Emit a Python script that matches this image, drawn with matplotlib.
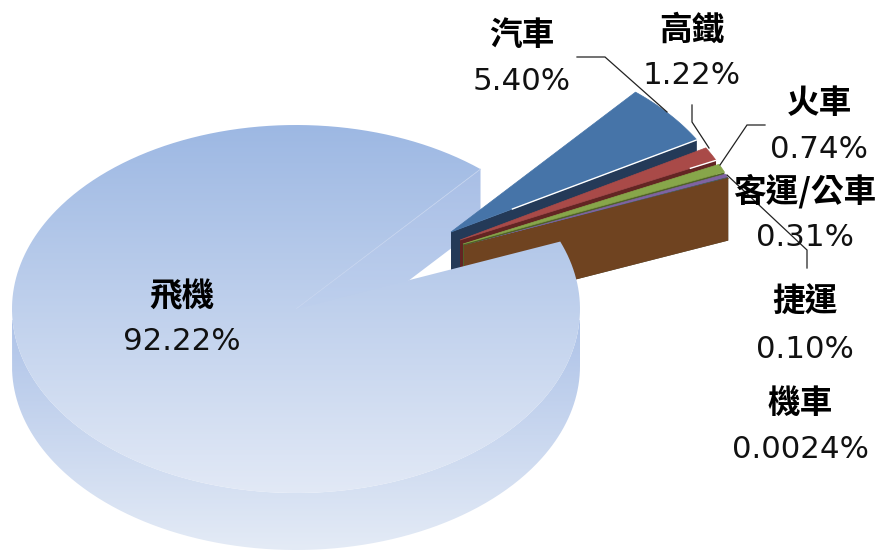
import numpy as np
import matplotlib
matplotlib.use('Agg')
from matplotlib import pyplot as plt
from matplotlib.colors import LinearSegmentedColormap
from matplotlib.patches import PathPatch, Polygon
from matplotlib.path import Path

names = ['飛機', '汽車', '高鐵', '火車', '客運/公車', '捷運', '機車']
values = [92.22, 5.40, 1.22, 0.74, 0.31, 0.10, 0.0024]
value_labels = ['92.22%', '5.40%', '1.22%', '0.74%', '0.31%', '0.10%', '0.0024%']

top_colors = ['#9DB8E3', '#4674A8', '#A94A48', '#87A64A', '#7F63A2', '#4A5A50', '#6F4320']
wall_colors = ['#A9BFE6', '#243A58', '#632523', '#4F6228', '#4A3A64', '#4A5A50', '#6F4320']

# label centres, (name y, value y)
label_x = [182, 522, 692, 819, 805, 805, 800]
name_y = [297, 35, 30, 103, 191, 302, 403]
value_y = [341, 82, 75, 150, 237, 349, 450]

# pie layout in pixels
cx, cy = 296, 309
rx, ry = 284, 184
depth = 57
start_angle = 21.5
# offsets of the pulled out slices
explode_x = [0, 155, 164, 167, 168, 168, 168]
explode_y = [0, -77, -69, -65, -63, -63, -63]

# leader lines for the small slices
leaders = [
    [(577, 57), (605, 57), (667, 112)],
    [(692, 105), (692, 122), (709, 148)],
    [(765, 125), (747, 125), (720, 165)],
    [(727, 175), (807, 250), (807, 268)],
]

fig = plt.figure(figsize=(8.76, 5.5), dpi=100)
ax = fig.add_axes([0, 0, 1, 1])
ax.axis('off')


def arc(a0, a1, dx=0, dy=0):
    t = np.radians(np.linspace(a0, a1, max(2, int(abs(a1 - a0) * 2))))
    return np.column_stack([cx + dx + rx * np.cos(t), cy + dy - ry * np.sin(t)])


def rim(a, dx=0, dy=0):
    return arc(a, a, dx, dy)[0]


def gradient(points, y0, y1, c0, c1, z):
    cmap = LinearSegmentedColormap.from_list('g', [c0, c1])
    im = ax.imshow(np.linspace(0, 1, 256).reshape(-1, 1), cmap=cmap, aspect='auto',
                   extent=(0, 876, y1, y0), zorder=z, interpolation='bilinear')
    closed = np.vstack([points, points[0]])
    clip = PathPatch(Path(closed), transform=ax.transData, fc='none', ec='none')
    ax.add_patch(clip)
    im.set_clip_path(clip)


# clockwise sweep of every slice
sweeps = 360 * np.array(values) / sum(values)
ends = start_angle - np.cumsum(sweeps)
starts = ends + sweeps

# pulled out slices, back to front
for i in range(1, len(values)):
    dx, dy = explode_x[i], explode_y[i]
    apex = np.array([cx + dx, cy + dy])
    edge = rim(ends[i], dx, dy)
    wall = [apex, edge, edge + [0, depth + 5], apex + [0, depth + 5]]
    ax.add_patch(Polygon(wall, fc=wall_colors[i], ec='none', zorder=3 + i))
    top = np.vstack([apex, arc(starts[i], ends[i], dx, dy)])
    ax.add_patch(Polygon(top, fc=top_colors[i], ec=top_colors[i], lw=0.5, zorder=3 + i))
    if i == 1:
        p = apex + 0.25 * (edge - apex)
        ax.plot([p[0], edge[0]], [p[1], edge[1]], color='white', lw=1.0, zorder=3 + i)
    if i == 2:
        p = apex + 0.9 * (edge - apex)
        ax.plot([p[0], edge[0]], [p[1], edge[1]], color='white', lw=1.0, zorder=3 + i)

# back wall of the big slice, seen through the gap
centre = np.array([cx, cy])
back = rim(ends[0])
wall = np.array([centre, back, back + [0, depth], centre + [0, depth]])
gradient(wall, 168, 366, '#A9BFE6', '#C6D6F0', 2)

# front wall of the big slice
front = arc(0, -180)
side = np.vstack([front, arc(-180, 0, 0, depth)])
gradient(side, 320, 550, '#AEC3E8', '#E4EBF6', 12)

# top of the big slice
top = np.vstack([centre, arc(starts[0], ends[0])])
gradient(top, 125, 493, '#9DB8E3', '#E2E9F6', 13)
ax.plot([cx, back[0]], [cy, back[1]], color='#C4D3EE', lw=0.6, zorder=14)

for line in leaders:
    xs, ys = zip(*line)
    ax.plot(xs, ys, color='#222222', lw=0.9, zorder=15, solid_joinstyle='miter')

for i in range(len(names)):
    ax.text(label_x[i], name_y[i], names[i], family=['Noto Sans CJK TC', 'DejaVu Sans'],
            fontsize=23.5, fontweight='bold', color='black', ha='center', va='center', zorder=16)
    ax.text(label_x[i], value_y[i], value_labels[i], family='DejaVu Sans',
            fontsize=22.2, color='#111111', ha='center', va='center', zorder=16)

ax.set_xlim(0, 876)
ax.set_ylim(550, 0)
fig.savefig('out.png', dpi=100, facecolor='white')
